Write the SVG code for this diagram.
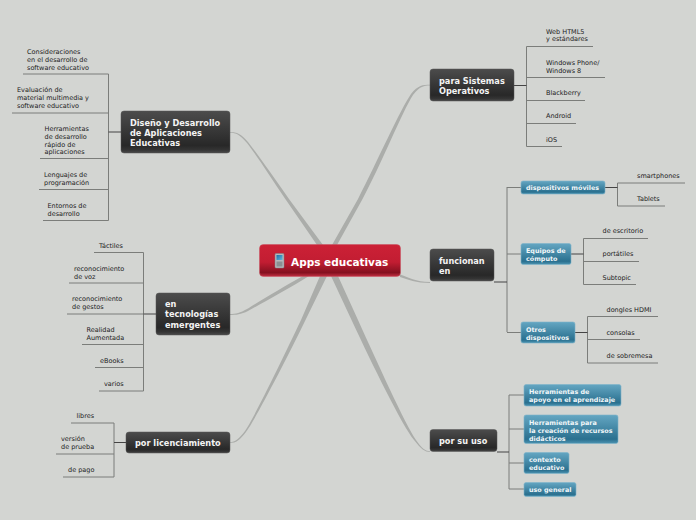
<svg xmlns="http://www.w3.org/2000/svg" width="696" height="520" viewBox="0 0 696 520">
<style>
text{font-family:"DejaVu Sans",Verdana,sans-serif}
.l{font-size:6.5px;fill:#222}
.d{font-size:8.2px;font-weight:bold;fill:#f4f4f4}
.t{font-size:6.4px;font-weight:bold;fill:#f2f7f9}
.c{font-size:10.5px;font-weight:bold;fill:#fff}
.dn{fill:url(#dk);stroke:#555;stroke-width:.5}
.tn{fill:url(#tl);stroke:#7db3c9;stroke-width:.6}
.tr{fill:#abadaa;stroke:none}
.ln{fill:none;stroke:#7b7d7a;stroke-width:1}
.st{fill:none;stroke:#444;stroke-width:1.2}
</style>
<defs>
<linearGradient id="dk" x1="0" y1="0" x2="0" y2="1"><stop offset="0" stop-color="#4c4c4c"/><stop offset=".82" stop-color="#282828"/><stop offset=".92" stop-color="#333"/><stop offset="1" stop-color="#4a4a4a"/></linearGradient>
<linearGradient id="tl" x1="0" y1="0" x2="0" y2="1"><stop offset="0" stop-color="#64a6c2"/><stop offset=".85" stop-color="#2a708f"/><stop offset="1" stop-color="#4d94b2"/></linearGradient>
<linearGradient id="rd" x1="0" y1="0" x2="0" y2="1"><stop offset="0" stop-color="#cc2136"/><stop offset=".55" stop-color="#c21d32"/><stop offset=".88" stop-color="#84101f"/><stop offset="1" stop-color="#c43044"/></linearGradient>
<linearGradient id="sc" x1="0" y1="0" x2="1" y2="1"><stop offset="0" stop-color="#1d6fa8"/><stop offset="1" stop-color="#5fb6dc"/></linearGradient>
</defs>
<rect width="696" height="520" fill="#d3d5d2"/>
<g id="connectors">
<path class="tr" d="M323 245L289 199C272 175 256 152 248 142C241 134 237 132 230 132L230 132.800C236 132.800 240 135 247 143C255 153 270 176 286 200L317 245Z"/>
<path class="tr" d="M337 245L362 200C382 163 402 112 413 95C420 86 424 85.500 430 85.500L430 84.700C423 84.700 418 85 411 94C400 110 378 160 358 199L332 245Z"/>
<path class="tr" d="M400 274.500C408 277 416 282 430 282L430 283C416 283 408 279.500 400 277Z"/>
<path class="tr" d="M327 276L305 321C285 362 255 420 246 432C240 440 236 443 230 443L230 442.200C235 442 239 439 245 431C254 418 282 360 301 320L320 276Z"/>
<path class="tr" d="M303 276C285 286 258 302 247 309C240 313 236 314 230 314L230 315C236 315 241 314.500 248 311C259 305 290 288 309 276Z"/>
<path class="tr" d="M331 276L352 321C372 364 402 425 414 440C421 449 425 452 430 452L430 451.200C426 451 422 449 416 440C405 424 378 364 358 320L338 276Z"/>
<g class="ln">
<path d="M108.500 74V220.500M23 74H108.500M12 113H108.500M40 158.500H108.500M39 189.500H108.500M43 220.500H108.500"/>
<path d="M143.500 252.500V391M94 252.500H143.500M69 283H143.500M67 314H143.500M82 344.500H143.500M95 367.500H143.500M99 391H143.500"/>
<path d="M114 423V477M71 423H114M56 454H114M63 477H114"/>
<path d="M526.500 46.500V146.500M526.500 46.500H593M526.500 77.500H605M526.500 100.500H585M526.500 123.500H576M526.500 146.500H562"/>
<path d="M507 187V332M507 187.500H521M507 254H521M507 332.500H521"/>
<path d="M617.500 183V206M617.500 183H685M617.500 206H665"/>
<path d="M583.500 238.500V284.500M583.500 238.500H648M583.500 261.500H639M583.500 284.500H636"/>
<path d="M587.500 316.500V363M587.500 316.500H658M587.500 339.500H640M587.500 363H658"/>
<path d="M509 395V489M509 395H524M509 429H524M509 463H524M509 489H524"/>
</g>
<g class="st">
<path d="M108.500 132H121M143.500 314H156M114 442.500H126M514 85.500H526.500M494 282H507M605 187.500H617.500M571 254H583.500M575 332.500H587.500M497 452H509"/>
</g>
</g>
<g id="central">
<rect x="259.500" y="244.500" width="141" height="32" rx="4" fill="url(#rd)" stroke="#c9505f" stroke-width=".5"/>
<rect x="275" y="253.500" width="9" height="14.500" rx="1" fill="#b5b8ba" stroke="#7d8184" stroke-width=".5"/>
<rect x="276.500" y="255" width="6" height="5" fill="url(#sc)"/>
<rect x="276.500" y="261.500" width="6" height="5" fill="#8b8f92"/>
<text class="c" x="291" y="265.500">Apps educativas</text>
</g>
<g id="n-diseno">
<rect class="dn" x="121" y="111" width="109" height="42" rx="3"/>
<text class="d" x="130" y="126">Diseño y Desarrollo</text><text class="d" x="130" y="136">de Aplicaciones</text><text class="d" x="130" y="146">Educativas</text>
</g>
<g id="n-diseno-leaves">
<text class="l" x="27" y="54">Consideraciones</text><text class="l" x="27" y="62">en el desarrollo de</text><text class="l" x="27" y="69.500">software educativo</text>
<text class="l" x="17" y="92">Evaluación de</text><text class="l" x="17" y="100">material multimedia y</text><text class="l" x="17" y="108">software educativo</text>
<text class="l" x="44.500" y="131">Herramientas</text><text class="l" x="44.500" y="139">de desarrollo</text><text class="l" x="44.500" y="146.500">rápido de</text><text class="l" x="44.500" y="154">aplicaciones</text>
<text class="l" x="44" y="177">Lenguajes de</text><text class="l" x="44" y="185">programación</text>
<text class="l" x="47.500" y="208">Entornos de</text><text class="l" x="47.500" y="216">desarrollo</text>
</g>
<g id="n-tecnologias">
<rect class="dn" x="156" y="293" width="74" height="42" rx="3"/>
<text class="d" x="165" y="307">en</text><text class="d" x="165" y="317">tecnologías</text><text class="d" x="165" y="328">emergentes</text>
</g>
<g id="n-tecnologias-leaves">
<text class="l" x="99" y="248">Táctiles</text>
<text class="l" x="74" y="271">reconocimiento</text><text class="l" x="74" y="278.500">de voz</text>
<text class="l" x="72" y="301">reconocimiento</text><text class="l" x="72" y="309">de gestos</text>
<text class="l" x="86.500" y="332">Realidad</text><text class="l" x="86.500" y="340">Aumentada</text>
<text class="l" x="100" y="363">eBooks</text>
<text class="l" x="104" y="386">varios</text>
</g>
<g id="n-licenciamiento">
<rect class="dn" x="126" y="432" width="104" height="21" rx="3"/>
<text class="d" x="135" y="446">por licenciamiento</text>
</g>
<g id="n-licenciamiento-leaves">
<text class="l" x="76.500" y="418">libres</text>
<text class="l" x="61" y="441">versión</text><text class="l" x="61" y="449">de prueba</text>
<text class="l" x="68" y="472">de pago</text>
</g>
<g id="n-sistemas">
<rect class="dn" x="430" y="69" width="84" height="32" rx="3"/>
<text class="d" x="439" y="84">para Sistemas</text><text class="d" x="439" y="94">Operativos</text>
</g>
<g id="n-sistemas-leaves">
<text class="l" x="546" y="33.500">Web HTML5</text><text class="l" x="546" y="41">y estándares</text>
<text class="l" x="546" y="65">Windows Phone/</text><text class="l" x="546" y="72.500">Windows 8</text>
<text class="l" x="546" y="95">Blackberry</text>
<text class="l" x="546" y="118">Android</text>
<text class="l" x="546" y="142">iOS</text>
</g>
<g id="n-funcionan">
<rect class="dn" x="430" y="249" width="64" height="32" rx="3"/>
<text class="d" x="439" y="264">funcionan</text><text class="d" x="439" y="274">en</text>
</g>
<g id="n-moviles">
<rect class="tn" x="521" y="181" width="84" height="13" rx="2"/>
<text class="t" x="526" y="190">dispositivos móviles</text>
</g>
<g id="n-moviles-leaves">
<text class="l" x="637" y="178">smartphones</text>
<text class="l" x="637" y="201">Tablets</text>
</g>
<g id="n-equipos">
<rect class="tn" x="521" y="243.500" width="50" height="21" rx="2"/>
<text class="t" x="526" y="253">Equipos de</text><text class="t" x="526" y="261">cómputo</text>
</g>
<g id="n-equipos-leaves">
<text class="l" x="602.500" y="233">de escritorio</text>
<text class="l" x="602.500" y="256">portátiles</text>
<text class="l" x="602.500" y="280">Subtopic</text>
</g>
<g id="n-otros">
<rect class="tn" x="521" y="322" width="54" height="21" rx="2"/>
<text class="t" x="526" y="331.500">Otros</text><text class="t" x="526" y="339.500">dispositivos</text>
</g>
<g id="n-otros-leaves">
<text class="l" x="606.500" y="312">dongles HDMI</text>
<text class="l" x="606.500" y="335">consolas</text>
<text class="l" x="606.500" y="358">de sobremesa</text>
</g>
<g id="n-uso">
<rect class="dn" x="430" y="429.500" width="67" height="22" rx="3"/>
<text class="d" x="439" y="444">por su uso</text>
</g>
<g id="n-apoyo">
<rect class="tn" x="524" y="384.500" width="97" height="21.500" rx="2"/>
<text class="t" x="529" y="394">Herramientas de</text><text class="t" x="529" y="402">apoyo en el aprendizaje</text>
</g>
<g id="n-creacion">
<rect class="tn" x="524" y="415" width="94" height="28.500" rx="2"/>
<text class="t" x="529" y="424.500">Herramientas para</text><text class="t" x="529" y="432.500">la creación de recursos</text><text class="t" x="529" y="440.500">didácticos</text>
</g>
<g id="n-contexto">
<rect class="tn" x="524" y="452.500" width="45" height="21" rx="2"/>
<text class="t" x="529" y="462">contexto</text><text class="t" x="529" y="470">educativo</text>
</g>
<g id="n-general">
<rect class="tn" x="524" y="482.500" width="52" height="14" rx="2"/>
<text class="t" x="529" y="492">uso general</text>
</g>
</svg>
